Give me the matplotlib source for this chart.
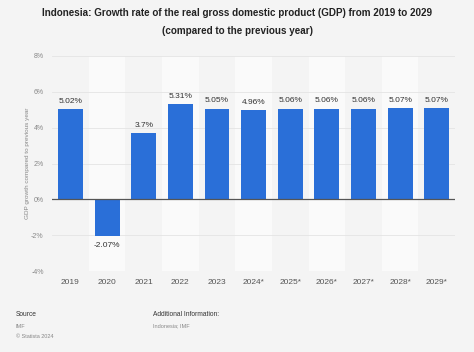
import numpy as np
import matplotlib.pyplot as plt

plt.rcParams["font.family"] = ["Liberation Sans", "DejaVu Sans"]

# Data
years = ["2019", "2020", "2021", "2022", "2023", "2024*", "2025*", "2026*", "2027*", "2028*", "2029*"]
growth = [5.02, -2.07, 3.7, 5.31, 5.05, 4.96, 5.06, 5.06, 5.06, 5.07, 5.07]
valueLabels = ["5.02%", "-2.07%", "3.7%", "5.31%", "5.05%", "4.96%", "5.06%", "5.06%", "5.06%", "5.07%", "5.07%"]
yTicks = [-4, -2, 0, 2, 4, 6, 8]

bgColor = "#f4f4f4"
barColor = "#2a6fd8"
textGrey = "#555555"

fig = plt.figure(figsize=(4.74, 3.52), dpi=100, facecolor=bgColor)
ax = fig.add_axes([0.110, 0.230, 0.850, 0.611], facecolor=bgColor)

x = np.arange(len(years))

# Alternating column bands
for i in x:
    if i % 2 == 1:
        ax.axvspan(i - 0.5, i + 0.5, color="#fafafa", zorder=0, lw=0)

# Grid lines
for t in yTicks:
    ax.axhline(t, color="#e4e4e4", lw=0.6, zorder=1)

ax.bar(x, growth, width=0.68, color=barColor, zorder=2)
ax.axhline(0, color="#555555", lw=0.9, zorder=3)

# Value labels
for xi, v, lab in zip(x, growth, valueLabels):
    if v >= 0:
        ax.text(xi, v + 0.25, lab, ha="center", va="bottom", fontsize=6, color="#333333")
    else:
        ax.text(xi, v - 0.3, lab, ha="center", va="top", fontsize=6, color="#333333")

ax.set_xlim(-0.5, len(years) - 0.5)
ax.set_ylim(-4, 8)
ax.set_yticks(yTicks)
ax.set_yticklabels([f"{t}%" for t in yTicks], fontsize=5, color="#888888")
ax.set_xticks(x)
ax.set_xticklabels(years, fontsize=6, color=textGrey)
ax.tick_params(length=0, pad=6)
for s in ax.spines.values():
    s.set_visible(False)

ax.set_ylabel("GDP growth compared to previous year", fontsize=4.6, color="#888888")
ax.yaxis.set_label_coords(-0.055, 0.5)

# Title
fig.text(0.5, 0.962, "Indonesia: Growth rate of the real gross domestic product (GDP) from 2019 to 2029",
         ha="center", va="center", fontsize=7.1, fontweight="bold", color="#222222")
fig.text(0.5, 0.912, "(compared to the previous year)",
         ha="center", va="center", fontsize=7.1, fontweight="bold", color="#222222")

# Footer
fig.text(16 / 474, 1 - 315 / 352, "Source", fontsize=4.8, color="#333333", va="center")
fig.text(16 / 474, 1 - 326 / 352, "IMF", fontsize=4.0, color="#888888", va="center")
fig.text(16 / 474, 1 - 337 / 352, "© Statista 2024", fontsize=4.0, color="#888888", va="center")
fig.text(153 / 474, 1 - 315 / 352, "Additional Information:", fontsize=4.8, color="#333333", va="center")
fig.text(153 / 474, 1 - 326 / 352, "Indonesia; IMF", fontsize=4.0, color="#888888", va="center")

fig.savefig("out.png", dpi=100, facecolor=bgColor)
